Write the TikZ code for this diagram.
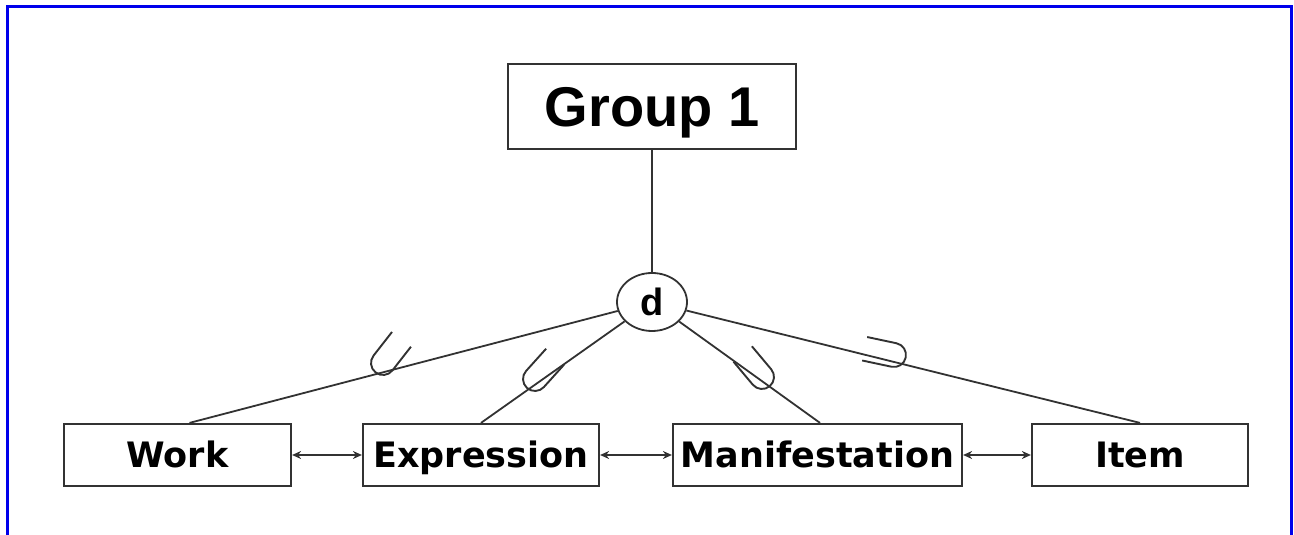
\documentclass[tikz,border=0pt]{standalone}
\usepackage{xcolor}
\usepackage{fontspec}
\usepackage{tikz}
\usetikzlibrary{arrows.meta,shapes.geometric}
\setmainfont{DejaVu Sans}
\newfontfamily\headfont{Liberation Sans}
\definecolor{frameblue}{RGB}{0,0,235}
\definecolor{inkgray}{RGB}{50,50,50}
\tikzset{
  entity/.style={draw=inkgray,line width=2.2pt,minimum height=62pt,inner sep=0pt,
    text height=26pt,text depth=0pt,font=\fontsize{35}{40}\selectfont\bfseries},
  link/.style={draw=inkgray,line width=1.8pt},
  twoway/.style={link,line width=1.5pt,{Stealth[length=9pt,width=8pt]}-{Stealth[length=9pt,width=8pt]}},
  cupmark/.pic={\draw[inkgray,line width=1.9pt] (30,12) -- (0,12) arc (90:270:12) -- (30,-12);}
}

\begin{document}
\begin{tikzpicture}[x=1pt,y=1pt]
        \useasboundingbox (0,0) rectangle (1294,535);
        % frame
        \draw[frameblue,line width=3pt] (7,0) -- (7,528) -- (1291,528) -- (1291,0);
        % entities
        \node[entity,minimum width=288pt,minimum height=85pt,text height=40pt,
              font=\headfont\bfseries\fontsize{56}{60}\selectfont] (group) at (652,428.5) {Group 1};
        \node[ellipse,draw=inkgray,line width=1.8pt,minimum width=70pt,minimum height=58pt,inner sep=0pt,
              font=\headfont\bfseries\fontsize{38}{42}\selectfont] (d) at (652,233) {d};
        \node[entity,minimum width=227pt] (work)  at (177.5,80) {Work};
        \node[entity,minimum width=236pt] (expr)  at (481,80)   {Expression};
        \node[entity,minimum width=289pt] (manif) at (817.5,80) {Manifestation};
        \node[entity,minimum width=216pt] (item)  at (1140,80)  {Item};
        % links
        \draw[link] (group) -- (d)
                    (d) -- ([xshift=12pt]work.north)
                    (d) -- (expr.north)
                    (d) -- ([xshift=2.5pt]manif.north)
                    (d) -- (item.north);
        \draw[twoway] (work.east)  -- (expr.west);
        \draw[twoway] (expr.east)  -- (manif.west);
        \draw[twoway] (manif.east) -- (item.west);
        % subset marks
        \pic[rotate=52]  at (383,172) {cupmark};
        \pic[rotate=48]  at (535,156) {cupmark};
        \pic[rotate=130] at (762,158) {cupmark};
        \pic[rotate=168] at (894,180) {cupmark};
    \end{tikzpicture}
\end{document}
